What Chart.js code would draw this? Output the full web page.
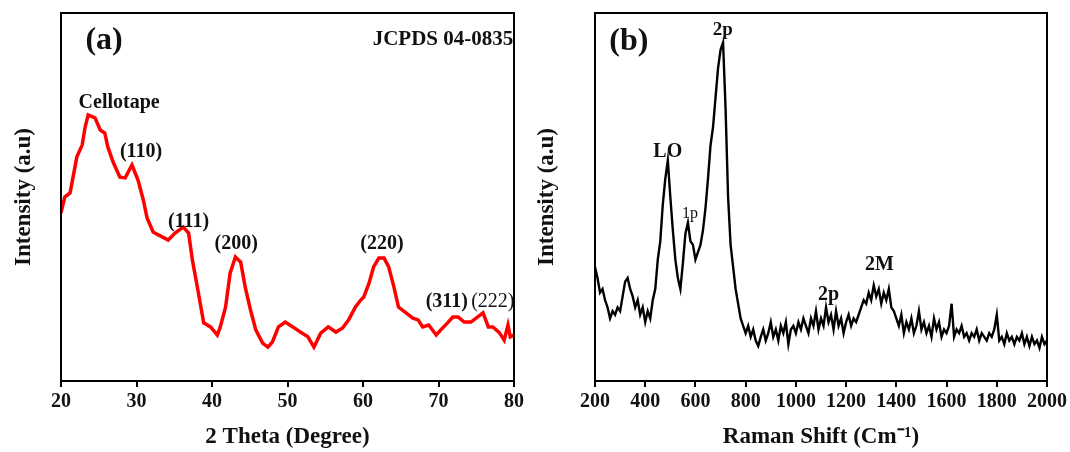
<!DOCTYPE html>
<html>
<head>
<meta charset="utf-8">
<script src="https://cdn.jsdelivr.net/npm/chart.js@4.4.0/dist/chart.umd.min.js"></script>
<style>
  html, body { margin: 0; padding: 0; background: #fff; }
  #wrap { position: relative; width: 1070px; height: 452px; }
  .panel { position: absolute; top: 0; height: 452px; }
</style>
</head>
<body>
<div id="wrap">
  <div class="panel" style="left:0;width:535px"><canvas id="xrd"></canvas></div>
  <div class="panel" style="left:527px;width:543px"><canvas id="raman"></canvas></div>
</div>
<script>
// (a) XRD pattern
const xrdAngle = [20.0, 20.5, 21.2, 22.1, 22.8, 23.2, 23.6, 24.5, 25.2, 25.8,
  26.2, 26.9, 27.8, 28.5, 29.4, 30.2, 30.9, 31.4, 32.2, 32.9,
  34.2, 35.1, 36.2, 36.9, 37.4, 38.2, 38.9, 39.8, 40.7, 41.1,
  41.8, 42.4, 43.1, 43.8, 44.4, 45.1, 45.8, 46.7, 47.4, 48.0,
  48.8, 49.7, 50.7, 51.7, 52.7, 53.5, 54.4, 55.4, 56.4, 57.3,
  58.1, 59.0, 59.7, 60.1, 60.8, 61.4, 62.1, 62.8, 63.4, 64.1,
  64.7, 65.7, 66.6, 67.3, 67.9, 68.7, 69.7, 70.3, 71.2, 71.9,
  72.6, 73.4, 74.3, 75.2, 75.9, 76.6, 77.2, 78.0, 78.7, 79.2,
  79.5, 80.0];
const xrdIntensity = [45.7, 50.0, 51.1, 60.9, 64.1, 69.0, 72.3, 71.5, 68.2, 67.4,
  63.6, 59.5, 55.4, 55.2, 58.7, 54.6, 49.2, 44.3, 40.5, 39.7,
  38.3, 40.2, 41.8, 40.2, 32.9, 23.9, 15.8, 14.7, 12.5, 14.7,
  20.1, 29.3, 33.7, 32.3, 25.5, 19.3, 13.9, 10.3, 9.2, 10.6,
  14.7, 16.0, 14.7, 13.3, 12.0, 9.2, 13.0, 14.7, 13.3, 14.4,
  16.6, 20.1, 22.0, 22.8, 26.6, 31.0, 33.4, 33.4, 31.0, 25.5,
  20.1, 18.5, 17.1, 16.6, 14.7, 15.2, 12.5, 13.9, 15.8, 17.4,
  17.4, 16.0, 16.0, 17.4, 18.5, 14.7, 14.7, 13.3, 11.1, 15.2,
  12.0, 12.5];
const xrdTicks = [20, 30, 40, 50, 60, 70, 80];

// (b) Raman spectrum
const ramanShift = [200, 210, 220, 230, 240, 250, 260, 270, 280, 290,
  300, 310, 320, 330, 340, 350, 360, 370, 380, 390,
  400, 410, 420, 430, 440, 450, 460, 470, 480, 490,
  500, 510, 520, 530, 540, 550, 560, 570, 580, 590,
  600, 610, 620, 630, 640, 650, 660, 670, 680, 690,
  700, 710, 720, 730, 740, 750, 760, 770, 780, 790,
  800, 810, 820, 830, 840, 850, 860, 870, 880, 890,
  900, 910, 920, 930, 940, 950, 960, 970, 980, 990,
  1000, 1010, 1020, 1030, 1040, 1050, 1060, 1070, 1080, 1090,
  1100, 1110, 1120, 1130, 1140, 1150, 1160, 1170, 1180, 1190,
  1200, 1210, 1220, 1230, 1240, 1250, 1260, 1270, 1280, 1290,
  1300, 1310, 1320, 1330, 1340, 1350, 1360, 1370, 1380, 1390,
  1400, 1410, 1420, 1430, 1440, 1450, 1460, 1470, 1480, 1490,
  1500, 1510, 1520, 1530, 1540, 1550, 1560, 1570, 1580, 1590,
  1600, 1610, 1620, 1630, 1640, 1650, 1660, 1670, 1680, 1690,
  1700, 1710, 1720, 1730, 1740, 1750, 1760, 1770, 1780, 1790,
  1800, 1810, 1820, 1830, 1840, 1850, 1860, 1870, 1880, 1890,
  1900, 1910, 1920, 1930, 1940, 1950, 1960, 1970, 1980, 1990,
  2000];
const ramanIntensity = [31, 28, 24, 25, 22, 20, 17, 19, 18, 20,
  19, 23, 27, 28, 25, 23, 20, 22, 18, 20,
  16, 19, 17, 22, 25, 33, 38, 48, 55, 60,
  50, 41, 33, 28, 25, 32, 40, 43, 38, 37,
  33, 35, 37, 41, 47, 55, 64, 69, 77, 85,
  90, 92, 74, 50, 37, 31, 25, 21, 17, 15,
  13, 15, 12, 14, 11, 9.5, 12, 14, 11, 13,
  16, 12, 14, 11, 15, 13, 16, 10, 14, 15,
  13, 16, 14, 17, 15, 13, 17, 15, 19, 14,
  17, 15, 20, 16, 18, 14, 19, 15, 17, 13,
  16, 18, 15, 17, 16, 18, 20, 22, 21, 24,
  22, 26, 23, 25, 21, 24, 22, 25, 20, 19,
  17, 15, 18, 13, 16, 14, 17, 13, 15, 19,
  14, 16, 13, 15, 12, 17, 14, 16, 12, 14,
  13, 15, 21, 12, 14, 13, 15, 12, 13, 11,
  13, 12, 14, 11, 13, 12, 11, 13, 12, 14,
  18, 11, 12, 10, 13, 11, 12, 10, 12, 11,
  13, 10, 12, 9.5, 12, 10, 11, 9, 12, 10,
  11];
const ramanTicks = [200, 400, 600, 800, 1000, 1200, 1400, 1600, 1800, 2000];

// peak labels, anchored in data units
const xrdLabels = [
  { text: '(a)', x: 25.7, y: 92.4, size: 32 },
  { text: 'JCPDS 04-0835', x: 79.9, y: 92.7, size: 21, align: 'right' },
  { text: 'Cellotape', x: 27.7, y: 75.5 },
  { text: '(110)', x: 30.6, y: 62.2 },
  { text: '(111)', x: 36.9, y: 43.2 },
  { text: '(200)', x: 43.2, y: 37.2 },
  { text: '(220)', x: 62.5, y: 37.2 },
  { text: '(311)', x: 71.1, y: 21.5 },
  { text: '(222)', x: 77.2, y: 21.5, weight: 'normal' }
];
const ramanLabels = [
  { text: '(b)', x: 335, y: 92.1, size: 32 },
  { text: '2p', x: 709, y: 95.4, size: 19 },
  { text: 'LO', x: 490, y: 62.2 },
  { text: '1p', x: 578, y: 45.5, size: 16, weight: 'normal' },
  { text: '2p', x: 1130, y: 23.4 },
  { text: '2M', x: 1333, y: 31.5 }
];

const SERIF = '"Liberation Serif", "Times New Roman", serif';

const framePlugin = {
  id: 'frame',
  afterDatasetsDraw(chart) {
    const { ctx, chartArea: a } = chart;
    ctx.save();
    ctx.strokeStyle = '#000';
    ctx.lineWidth = 2;
    ctx.strokeRect(a.left, a.top, a.right - a.left, a.bottom - a.top);
    ctx.restore();
  }
};

const peakLabelsPlugin = {
  id: 'peakLabels',
  afterDraw(chart, args, opts) {
    const { ctx, scales } = chart;
    ctx.save();
    ctx.fillStyle = '#111';
    ctx.textBaseline = 'middle';
    (opts.items || []).forEach(l => {
      ctx.font = (l.weight || 'bold') + ' ' + (l.size || 20) + 'px ' + SERIF;
      ctx.textAlign = l.align || 'center';
      ctx.fillText(l.text, scales.x.getPixelForValue(l.x), scales.y.getPixelForValue(l.y));
    });
    ctx.restore();
  }
};

function makeChart(canvasId, xs, ys, color, lineWidth, xMin, xMax, ticks, xTitle, axisWidth, titlePad, padRight, labels) {
  const canvas = document.getElementById(canvasId);
  return new Chart(canvas, {
    type: 'line',
    data: {
      datasets: [{
        data: xs.map((x, i) => ({ x: x, y: ys[i] })),
        borderColor: color,
        borderWidth: lineWidth,
        pointRadius: 0,
        tension: 0,
        fill: false
      }]
    },
    options: {
      responsive: true,
      maintainAspectRatio: false,
      animation: false,
      events: [],
      layout: { padding: { top: 13, right: padRight, bottom: 0, left: 0 } },
      plugins: {
        legend: { display: false },
        tooltip: { enabled: false },
        peakLabels: { items: labels }
      },
      scales: {
        x: {
          type: 'linear',
          min: xMin,
          max: xMax,
          afterBuildTicks: s => { s.ticks = ticks.map(v => ({ value: v })); },
          afterFit: s => { s.height = 71; },
          grid: { display: true, drawOnChartArea: false, drawTicks: true, tickLength: 6, color: '#000', lineWidth: 2 },
          border: { display: true, color: '#000', width: 2 },
          ticks: {
            color: '#111', padding: 3, maxRotation: 0, autoSkip: false,
            callback: v => String(v),
            font: { family: SERIF, size: 20, weight: 'bold' }
          },
          title: { display: true, text: xTitle, color: '#111', padding: { top: 0, bottom: 1 }, font: { family: SERIF, size: 23, weight: 'bold' } }
        },
        y: {
          min: 0,
          max: 100,
          afterFit: s => { s.width = axisWidth; },
          grid: { display: false },
          border: { display: false },
          ticks: { display: false },
          title: { display: true, text: 'Intensity (a.u)', color: '#111', padding: { top: titlePad, bottom: 0 }, font: { family: SERIF, size: 23, weight: 'bold' } }
        }
      }
    },
    plugins: [framePlugin, peakLabelsPlugin]
  });
}

makeChart('xrd', xrdAngle, xrdIntensity, '#ff0000', 3.5, 20, 80, xrdTicks,
  '2 Theta (Degree)', 61, 10, 21, xrdLabels);
makeChart('raman', ramanShift, ramanIntensity, '#000000', 2.4, 200, 2000, ramanTicks,
  'Raman Shift (Cm\u207B\u00B9)', 68, 6, 22, ramanLabels);
</script>
</body>
</html>
